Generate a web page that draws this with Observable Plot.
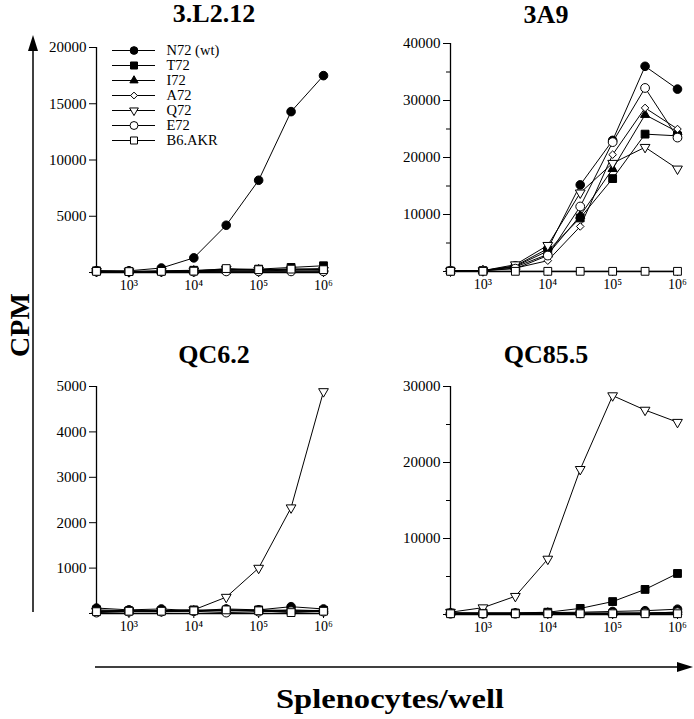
<!DOCTYPE html>
<html>
<head>
<meta charset="utf-8">
<script src="https://cdn.jsdelivr.net/npm/d3@7"></script>
<script src="https://cdn.jsdelivr.net/npm/@observablehq/plot@0.6"></script>
<style>
  html, body { margin: 0; padding: 0; background: #fff; }
  #root { position: relative; width: 694px; height: 719px; overflow: hidden; background: #fff; font-family: "Liberation Serif", serif; }
  #root > .abs { position: absolute; }
  svg { overflow: visible; }
</style>
</head>
<body>
<div id="root"></div>
<script>
// ---------- data ----------
const cellsPerWell = [316, 1000, 3162, 10000, 31623, 100000, 316228, 1000000];
const seriesNames = ["N72 (wt)", "T72", "I72", "A72", "Q72", "E72", "B6.AKR"];

// rows follow seriesNames order
const cpm3L212 = [
  [150, 150, 400, 1300, 4200, 8200, 14300, 17500],
  [150, 100, 150, 200, 250, 300, 450, 600],
  [100, 100, 100, 150, 200, 250, 300, 350],
  [100, 80, 100, 100, 150, 150, 200, 250],
  [100, 80, 100, 150, 300, 200, 250, 200],
  [80, 80, 80, 80, 100, 100, 100, 100],
  [100, 80, 100, 120, 350, 250, 300, 250]
];
const cpm3A9 = [
  [100, 150, 1000, 4000, 15200, 23000, 36000, 32000],
  [100, 150, 900, 3600, 9400, 16300, 24100, 23800],
  [100, 150, 800, 3000, 9800, 18000, 27500, 24500],
  [100, 150, 600, 1900, 7900, 20500, 28700, 25000],
  [100, 150, 1200, 4600, 13800, 19000, 21800, 18000],
  [100, 150, 500, 2800, 11400, 22700, 32200, 23500],
  [30, 30, 30, 30, 30, 30, 30, 30]
];
const cpmQC62 = [
  [120, 80, 100, 60, 100, 80, 150, 100],
  [80, 60, 60, 80, 60, 80, 60, 70],
  [60, 50, 60, 60, 80, 60, 80, 60],
  [50, 50, 50, 60, 60, 60, 50, 50],
  [50, 60, 60, 80, 360, 1000, 2330, 4890],
  [20, 40, 40, 50, 20, 40, 50, 40],
  [40, 50, 50, 60, 80, 60, 20, 50]
];
const cpmQC855 = [
  [200, 200, 200, 250, 300, 400, 500, 700],
  [200, 200, 200, 300, 800, 1700, 3300, 5400],
  [200, 150, 150, 200, 200, 200, 200, 300],
  [150, 150, 150, 150, 150, 150, 150, 150],
  [300, 900, 2400, 7300, 19100, 28800, 26900, 25300],
  [100, 100, 100, 150, 150, 150, 200, 300],
  [100, 100, 100, 100, 100, 100, 100, 100]
];

const panelTitles = ["3.L2.12", "3A9", "QC6.2", "QC85.5"];
const yMax = [20000, 40000, 5000, 30000];
const yMajorTicks = [
  [0, 5000, 10000, 15000, 20000],
  [0, 10000, 20000, 30000, 40000],
  [0, 1000, 2000, 3000, 4000, 5000],
  [0, 10000, 20000, 30000]
];
const yMinorTicks = [[], [5000, 15000, 25000, 35000], [], [5000, 15000, 25000]];
const xTickValues = [1000, 10000, 100000, 1000000];
const xTickLabels = ["10³", "10⁴", "10⁵", "10⁶"];
const yAxisTitle = "CPM";
const xAxisTitle = "Splenocytes/well";

// ---------- styles ----------
const triDown = {
  draw(context, size) {
    const w = Math.sqrt(size) * 1.25, h = w * 0.866;
    context.moveTo(-w / 2, -h / 3);
    context.lineTo(w / 2, -h / 3);
    context.lineTo(0, 2 * h / 3);
    context.closePath();
  }
};
const seriesStyle = {
  "N72 (wt)": {symbol: "circle", fill: "black", r: 4.3},
  "T72": {symbol: "square", fill: "black", r: 4.4},
  "I72": {symbol: "triangle", fill: "black", r: 3.4},
  "A72": {symbol: "diamond2", fill: "white", r: 3.4},
  "Q72": {symbol: triDown, fill: "white", r: 4.4},
  "E72": {symbol: "circle", fill: "white", r: 4.4},
  "B6.AKR": {symbol: "square", fill: "white", r: 4.4}
};
const FONT = "'Liberation Serif', 'Times New Roman', serif";

function rowsFor(matrix) {
  const rows = [];
  seriesNames.forEach((s, si) => cellsPerWell.forEach((x, xi) => rows.push({series: s, x, y: matrix[si][xi]})));
  return rows;
}

function panel(matrix, pi, box) {
  const rows = rowsFor(matrix);
  const marks = [
    Plot.ruleX([cellsPerWell[0]], {y1: 0, y2: yMax[pi], stroke: "black", strokeWidth: 1.3}),
    Plot.ruleY([0], {stroke: "black", strokeWidth: 1.3}),
    Plot.axisY(yMajorTicks[pi], {tickSize: 7, tickPadding: 3, tickFormat: d => d === 0 ? "" : String(d), label: null, fontSize: 15}),
    Plot.axisX(xTickValues, {tickSize: 5, tickPadding: 3, tickFormat: d => xTickLabels[xTickValues.indexOf(d)], label: null, fontSize: 14}),
    Plot.line(rows, {x: "x", y: "y", z: "series", stroke: "black", strokeWidth: 1})
  ];
  if (yMinorTicks[pi].length) marks.push(Plot.axisY(yMinorTicks[pi], {tickSize: 4, tickFormat: () => "", label: null}));
  seriesNames.forEach(s => {
    const st = seriesStyle[s];
    marks.push(Plot.dot(rows.filter(d => d.series === s), {x: "x", y: "y", symbol: st.symbol, r: st.r, fill: st.fill, stroke: "black", strokeWidth: 1}));
  });
  const svg = Plot.plot({
    width: box.w, height: box.h,
    marginLeft: box.ml, marginRight: box.mr, marginTop: box.mt, marginBottom: box.mb,
    style: {fontFamily: FONT, fontSize: "14px", background: "transparent", color: "black", overflow: "visible"},
    x: {type: "log", domain: [cellsPerWell[0], cellsPerWell[cellsPerWell.length - 1]], label: null},
    y: {domain: [0, yMax[pi]], label: null},
    marks
  });
  svg.classList.add("abs");
  svg.style.left = box.left + "px";
  svg.style.top = box.top + "px";
  return svg;
}

function legend() {
  const marks = [
    Plot.ruleY(seriesNames, {x1: 0, x2: 1, y: d => d, stroke: "black", strokeWidth: 1}),
    Plot.text(seriesNames, {x: 1, y: d => d, text: d => d, dx: 11, textAnchor: "start", fontSize: 14.5})
  ];
  seriesNames.forEach(s => {
    const st = seriesStyle[s];
    marks.push(Plot.dot([s], {x: () => 0.5, y: d => d, symbol: st.symbol, r: st.r * 0.9, fill: st.fill, stroke: "black", strokeWidth: 1}));
  });
  const svg = Plot.plot({
    width: 120, height: 110, marginLeft: 0, marginRight: 0, marginTop: 0, marginBottom: 0,
    style: {fontFamily: FONT, fontSize: "14px", background: "transparent", color: "black", overflow: "visible"},
    x: {domain: [0, 1], range: [0, 43], axis: null},
    y: {type: "point", domain: seriesNames, range: [8, 8 + 6 * 15.2], padding: 0, axis: null},
    marks
  });
  svg.classList.add("abs");
  svg.style.left = "112px";
  svg.style.top = "41px";
  return svg;
}

const root = document.getElementById("root");

// decorations: global arrows, axis titles, panel titles
const NS = "http://www.w3.org/2000/svg";
const deco = document.createElementNS(NS, "svg");
deco.setAttribute("width", 694); deco.setAttribute("height", 719);
deco.setAttribute("class", "abs");
deco.style.left = "0px"; deco.style.top = "0px";
deco.innerHTML = `
  <line x1="33" y1="612" x2="33" y2="48" stroke="black" stroke-width="1.5"/>
  <polygon points="33,35 28,51 38,51" fill="black"/>
  <line x1="95" y1="667" x2="680" y2="667" stroke="black" stroke-width="1.5"/>
  <polygon points="693,667 677,662 677,672" fill="black"/>
  <text transform="translate(29,325) rotate(-90)" text-anchor="middle" font-family="${FONT}" font-weight="bold" font-size="28">${yAxisTitle}</text>
  <text x="390" y="708" text-anchor="middle" font-family="${FONT}" font-weight="bold" font-size="28" textLength="228" lengthAdjust="spacingAndGlyphs">${xAxisTitle}</text>
  <text x="214" y="22" text-anchor="middle" font-family="${FONT}" font-weight="bold" font-size="26">${panelTitles[0]}</text>
  <text x="546" y="23" text-anchor="middle" font-family="${FONT}" font-weight="bold" font-size="26">${panelTitles[1]}</text>
  <text x="214" y="363" text-anchor="middle" font-family="${FONT}" font-weight="bold" font-size="26">${panelTitles[2]}</text>
  <text x="546" y="363" text-anchor="middle" font-family="${FONT}" font-weight="bold" font-size="26">${panelTitles[3]}</text>
`;
root.appendChild(deco);

root.appendChild(panel(cpm3L212, 0, {left: 36, top: 37, w: 299, h: 265, ml: 60, mr: 12, mt: 10, mb: 30}));
root.appendChild(panel(cpm3A9, 1, {left: 390, top: 33, w: 299, h: 268, ml: 60, mr: 12, mt: 10, mb: 30}));
root.appendChild(panel(cpmQC62, 2, {left: 36, top: 376, w: 299, h: 267, ml: 60, mr: 12, mt: 10, mb: 30}));
root.appendChild(panel(cpmQC855, 3, {left: 390, top: 376, w: 299, h: 268, ml: 60, mr: 12, mt: 10, mb: 30}));
root.appendChild(legend());
</script>
</body>
</html>
